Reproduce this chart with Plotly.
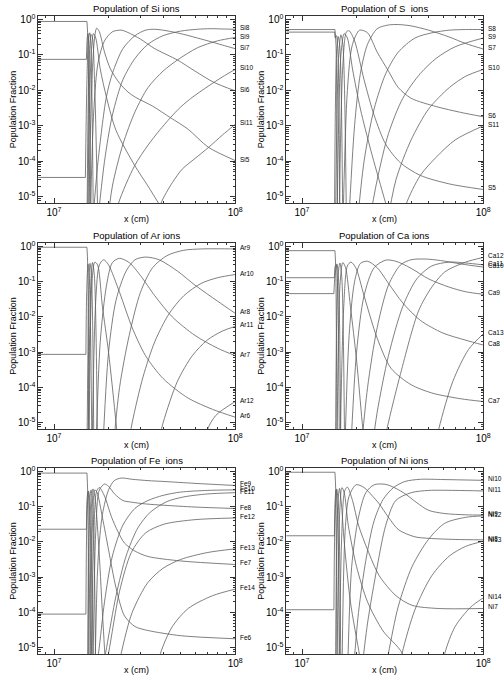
import math
import plotly.graph_objects as go

XU = 1e7  # the x lists below are in units of 1e7 cm

# ---------------- Si ----------------
# curves that start before the shock or die out near it (no label)
SI_EARLY = [
    ([0.5, 1.52, 1.54, 1.565], [0.88, 0.88, 0.25, 1e-6]),
    ([0.5, 1.51, 1.525, 1.54, 1.56, 1.60], [0.075, 0.075, 0.30, 0.40, 0.10, 1e-6]),
    ([0.5, 1.49, 1.52, 1.55, 1.575, 1.60, 1.65], [3.5e-5, 3.5e-5, 0.02, 0.30, 0.42, 0.15, 1e-6]),
    ([1.52, 1.56, 1.60, 1.63, 1.68, 1.75], [1e-6, 0.05, 0.38, 0.30, 0.01, 1e-6]),
    ([1.53, 1.60, 1.65, 1.70, 1.80, 1.95, 2.2, 2.79, 3.3, 3.9],
     [1e-6, 0.08, 0.40, 0.30, 0.04, 6.3e-3, 7.4e-4, 7.6e-5, 2e-5, 5e-6]),
]
SI_IONS = {
    "Si5": ([1.55, 1.62, 1.68, 1.72, 1.78, 1.9, 2.05, 2.3, 2.56, 2.83, 3.5, 4.39, 5.5, 7.1, 10],
            [1e-6, 0.02, 0.35, 0.57, 0.45, 0.12, 0.04, 0.016, 0.009, 6.3e-3, 3.6e-3, 1.7e-3,
             8e-4, 2.5e-4, 1.05e-4]),
    "Si6": ([1.58, 1.66, 1.75, 1.9, 2.1, 2.35, 2.56, 3.0, 3.6, 4.8, 6.0, 7.6, 10],
            [1e-6, 3e-3, 0.06, 0.25, 0.45, 0.5, 0.43, 0.28, 0.15, 0.072, 0.035, 0.017, 0.0097]),
    "Si7": ([1.62, 1.75, 1.94, 2.1, 2.4, 2.8, 3.2, 3.57, 4.2, 5.2, 6.5, 7.26, 8.5, 10],
            [1e-6, 1e-4, 6e-3, 0.03, 0.15, 0.35, 0.5, 0.53, 0.48, 0.38, 0.28, 0.24, 0.19, 0.15]),
    "Si8": ([1.72, 1.9, 2.1, 2.4, 2.8, 3.3, 4.0, 5.0, 6.2, 7.3, 8.5, 10],
            [1e-6, 1e-4, 2e-3, 0.02, 0.08, 0.2, 0.35, 0.47, 0.53, 0.55, 0.54, 0.53]),
    "Si9": ([1.95, 2.1, 2.4, 2.8, 3.3, 4.0, 4.8, 6.2, 8.0, 10],
            [1e-6, 2e-5, 3e-4, 2.5e-3, 0.012, 0.035, 0.072, 0.16, 0.25, 0.31]),
    "Si10": ([2.1, 2.27, 2.79, 3.31, 3.8, 4.39, 5.0, 5.78, 7.08, 8.5, 10],
             [1e-6, 6.6e-6, 7.6e-5, 2.9e-4, 7.2e-4, 1.7e-3, 3.4e-3, 6.3e-3, 0.013, 0.024, 0.039]),
    "Si11": ([3.75, 3.9, 4.5, 5.1, 6.0, 7.12, 8.5, 10],
             [2e-6, 6.6e-6, 2.5e-5, 6e-5, 1.2e-4, 2.45e-4, 5.5e-4, 1.1e-3]),
}

# ---------------- S ----------------
S_EARLY = [
    ([0.5, 1.52, 1.54, 1.57], [0.52, 0.52, 0.2, 1e-6]),
    ([0.5, 1.515, 1.525, 1.55, 1.58, 1.62], [0.44, 0.44, 0.30, 0.35, 0.1, 1e-6]),
    ([1.51, 1.55, 1.585, 1.62, 1.68], [1e-6, 0.1, 0.33, 0.15, 1e-6]),
    ([1.53, 1.59, 1.64, 1.68, 1.76], [1e-6, 0.08, 0.37, 0.2, 1e-6]),
    ([1.56, 1.64, 1.71, 1.78, 1.9, 2.1, 2.4, 2.8, 3.1],
     [1e-6, 0.1, 0.4, 0.3, 0.04, 3e-3, 2e-4, 1.2e-5, 2e-6]),
]
S_IONS = {
    "S5": ([1.6, 1.68, 1.76, 1.82, 1.95, 2.2, 2.5, 2.9, 3.5, 4.5, 6.5, 10],
           [1e-6, 0.05, 0.45, 0.48, 0.25, 0.02, 2e-3, 3e-4, 9e-5, 4e-5, 2.3e-5, 1.6e-5]),
    "S6": ([1.68, 1.78, 1.9, 2.08, 2.3, 2.6, 3.0, 3.4, 4.0, 5.5, 7.5, 10],
           [1e-6, 0.01, 0.2, 0.5, 0.42, 0.12, 0.035, 0.012, 6e-3, 3.5e-3, 2.4e-3, 1.8e-3]),
    "S7": ([1.8, 1.95, 2.1, 2.3, 2.6, 3.0, 3.4, 4.0, 5.0, 6.5, 8.0, 10],
           [1e-6, 1e-3, 0.03, 0.2, 0.55, 0.7, 0.72, 0.66, 0.5, 0.32, 0.21, 0.147]),
    "S8": ([2.0, 2.2, 2.5, 2.9, 3.4, 4.2, 5.2, 6.5, 8.0, 10],
           [1e-6, 1e-4, 3e-3, 0.03, 0.12, 0.3, 0.42, 0.5, 0.52, 0.52]),
    "S9": ([2.3, 2.6, 3.0, 3.6, 4.5, 5.5, 7.0, 10],
           [1e-6, 3e-5, 6e-4, 6e-3, 0.03, 0.08, 0.17, 0.30]),
    "S10": ([2.9, 3.3, 4.0, 5.0, 6.5, 8.0, 10],
            [1e-6, 3e-5, 4e-4, 3e-3, 0.012, 0.025, 0.039]),
    "S11": ([3.5, 3.75, 4.5, 5.5, 7.0, 10],
            [1e-6, 6e-6, 4e-5, 1.3e-4, 4e-4, 1.0e-3]),
}

# ---------------- Ar ----------------
AR_EARLY = [
    ([0.5, 1.52, 1.535, 1.56], [0.95, 0.95, 0.3, 1e-6]),
    ([0.5, 1.50, 1.515, 1.54, 1.57, 1.62], [8.7e-4, 8.7e-4, 0.05, 0.32, 0.1, 1e-6]),
    ([1.52, 1.56, 1.58, 1.61, 1.66], [1e-6, 0.1, 0.33, 0.15, 1e-6]),
    ([1.54, 1.60, 1.63, 1.67, 1.74], [1e-6, 0.12, 0.35, 0.15, 1e-6]),
    ([1.56, 1.62, 1.68, 1.74, 1.85, 2.0, 2.2, 2.3], [1e-6, 0.1, 0.36, 0.3, 0.02, 1e-3, 1e-5, 1e-6]),
]
AR_IONS = {
    "Ar6": ([1.62, 1.70, 1.78, 1.88, 2.0, 2.3, 2.7, 3.2, 4.0, 5.5, 7.5, 10],
            [1e-6, 0.03, 0.3, 0.42, 0.3, 0.05, 5e-3, 8e-4, 1.8e-4, 5e-5, 2.4e-5, 1.44e-5]),
    "Ar7": ([1.7, 1.8, 1.95, 2.1, 2.3, 2.6, 3.0, 3.6, 4.5, 6.0, 8.0, 10],
            [1e-6, 2e-3, 0.08, 0.35, 0.46, 0.35, 0.15, 0.04, 0.01, 3e-3, 1.3e-3, 8e-4]),
    "Ar8": ([1.85, 2.0, 2.2, 2.5, 2.8, 3.2, 3.8, 4.8, 6.0, 8.0, 10],
            [1e-6, 1e-3, 0.03, 0.2, 0.42, 0.5, 0.42, 0.2, 0.08, 0.028, 0.0127]),
    "Ar9": ([2.1, 2.3, 2.6, 3.0, 3.5, 4.2, 5.2, 6.5, 8.0, 10],
            [1e-6, 1e-4, 3e-3, 0.05, 0.25, 0.55, 0.78, 0.85, 0.86, 0.85]),
    "Ar10": ([2.5, 2.7, 3.1, 3.6, 4.3, 5.2, 6.5, 8.0, 10],
             [1e-6, 1e-5, 2e-4, 2e-3, 0.012, 0.04, 0.09, 0.13, 0.16]),
    "Ar11": ([3.6, 4.0, 4.8, 5.8, 7.0, 8.5, 10],
             [1e-6, 1e-5, 1.5e-4, 8e-4, 2.2e-3, 4e-3, 5.4e-3]),
    "Ar12": ([6.7, 7.0, 7.8, 10], [1e-6, 6e-6, 1.6e-5, 4e-5]),
}

# ---------------- Ca ----------------
CA_EARLY = [
    ([0.5, 1.52, 1.535, 1.56], [0.76, 0.76, 0.25, 1e-6]),
    ([0.5, 1.51, 1.525, 1.545, 1.57, 1.61], [0.13, 0.13, 0.28, 0.30, 0.08, 1e-6]),
    ([0.5, 1.50, 1.52, 1.56, 1.59, 1.64], [0.046, 0.046, 0.15, 0.32, 0.12, 1e-6]),
    ([1.53, 1.58, 1.62, 1.66, 1.72], [1e-6, 0.15, 0.34, 0.12, 1e-6]),
    ([1.56, 1.62, 1.68, 1.74, 1.85, 2.0, 2.15, 2.25], [1e-6, 0.08, 0.35, 0.25, 0.02, 6e-4, 1e-5, 1e-6]),
]
CA_IONS = {
    "Ca7": ([1.62, 1.70, 1.78, 1.86, 1.98, 2.2, 2.6, 3.1, 4.0, 5.2, 7.5, 10],
            [1e-6, 0.02, 0.28, 0.36, 0.25, 0.04, 2.5e-3, 3.5e-4, 1.2e-4, 7e-5, 4.8e-5, 4e-5]),
    "Ca8": ([1.72, 1.82, 1.95, 2.1, 2.3, 2.6, 3.0, 3.6, 4.5, 6.0, 8.0, 10],
            [1e-6, 3e-3, 0.1, 0.33, 0.38, 0.25, 0.09, 0.025, 8e-3, 3.5e-3, 2.2e-3, 1.6e-3]),
    "Ca9": ([1.85, 2.0, 2.2, 2.5, 2.9, 3.3, 4.0, 5.0, 6.5, 8.0, 10],
            [1e-6, 1e-3, 0.04, 0.25, 0.41, 0.38, 0.24, 0.12, 0.07, 0.052, 0.044]),
    "Ca10": ([2.1, 2.3, 2.6, 3.0, 3.5, 4.0, 4.8, 5.8, 7.5, 10],
             [1e-6, 1e-4, 5e-3, 0.08, 0.3, 0.42, 0.44, 0.4, 0.32, 0.26]),
    "Ca11": ([2.4, 2.6, 3.0, 3.6, 4.3, 5.2, 6.5, 8.0, 10],
             [1e-6, 2e-5, 8e-4, 0.02, 0.12, 0.28, 0.36, 0.34, 0.30]),
    "Ca12": ([2.75, 2.95, 3.5, 4.4, 5.2, 6.14, 8.0, 10],
             [1e-6, 7e-6, 2.5e-4, 0.015, 0.07, 0.19, 0.36, 0.49]),
    "Ca13": ([5.3, 5.7, 6.8, 8.3, 10], [1e-6, 7e-6, 1.5e-4, 1.2e-3, 3.3e-3]),
}

# ---------------- Fe ----------------
FE_EARLY = [
    ([0.5, 1.52, 1.535, 1.56], [0.9, 0.9, 0.25, 1e-6]),
    ([0.5, 1.51, 1.52, 1.54, 1.57, 1.61], [0.023, 0.023, 0.15, 0.27, 0.05, 1e-6]),
    ([0.5, 1.50, 1.52, 1.55, 1.59, 1.64], [9e-5, 9e-5, 0.05, 0.28, 0.1, 1e-6]),
    ([1.53, 1.57, 1.60, 1.64, 1.70], [1e-6, 0.1, 0.3, 0.1, 1e-6]),
    ([1.55, 1.60, 1.64, 1.68, 1.76, 1.85, 1.95], [1e-6, 0.05, 0.32, 0.2, 0.01, 1e-4, 1e-6]),
]
FE_IONS = {
    "Fe6": ([1.58, 1.63, 1.68, 1.73, 1.85, 2.0, 2.2, 2.45, 2.8, 3.29, 5.0, 10],
            [1e-6, 0.03, 0.3, 0.25, 0.05, 6e-3, 5e-4, 8e-5, 4e-5, 3.1e-5, 2.2e-5, 1.8e-5]),
    "Fe7": ([1.6, 1.66, 1.72, 1.78, 1.9, 2.08, 2.25, 2.45, 2.8, 3.29, 5.0, 10],
            [1e-6, 0.02, 0.28, 0.35, 0.2, 0.05, 0.02, 9.3e-3, 5.5e-3, 3.9e-3, 2.9e-3, 2.3e-3]),
    "Fe8": ([1.64, 1.70, 1.78, 1.9, 2.0, 2.16, 2.4, 2.67, 3.2, 4.05, 6.0, 10],
            [1e-6, 0.02, 0.3, 0.44, 0.38, 0.23, 0.15, 0.135, 0.12, 0.11, 0.098, 0.089]),
    "Fe9": ([1.68, 1.75, 1.85, 2.0, 2.15, 2.35, 2.7, 3.3, 4.05, 6.0, 10],
            [1e-6, 3e-3, 0.06, 0.3, 0.55, 0.65, 0.6, 0.55, 0.52, 0.46, 0.40]),
    "Fe10": ([1.65, 1.76, 1.9, 2.1, 2.4, 2.8, 3.3, 4.0, 5.0, 7.0, 10],
             [1e-6, 7e-6, 2e-4, 4e-3, 0.03, 0.09, 0.15, 0.21, 0.26, 0.29, 0.30]),
    "Fe11": ([1.8, 1.95, 2.2, 2.5, 2.9, 3.4, 4.2, 5.2, 7.0, 10],
             [1e-6, 1e-5, 3e-4, 4e-3, 0.025, 0.07, 0.14, 0.19, 0.23, 0.25]),
    "Fe12": ([1.85, 2.0, 2.3, 2.67, 3.2, 4.05, 6.0, 10],
             [1e-6, 7e-6, 4e-4, 5e-3, 0.018, 0.032, 0.043, 0.048]),
    "Fe13": ([2.2, 2.35, 2.7, 3.29, 4.0, 5.0, 7.0, 10],
             [1e-6, 7e-6, 1e-4, 7e-4, 1.8e-3, 3.2e-3, 5e-3, 6.4e-3]),
    "Fe14": ([3.6, 3.87, 4.5, 5.5, 7.5, 10], [1e-6, 7e-6, 4e-5, 1.3e-4, 3e-4, 4.6e-4]),
}

# ---------------- Ni ----------------
NI_EARLY = [
    ([0.5, 1.52, 1.535, 1.56], [0.95, 0.95, 0.3, 1e-6]),
    ([0.5, 1.51, 1.52, 1.54, 1.57, 1.61], [0.015, 0.015, 0.12, 0.3, 0.06, 1e-6]),
    ([0.5, 1.50, 1.52, 1.555, 1.59, 1.64], [1.2e-4, 1.2e-4, 0.04, 0.32, 0.1, 1e-6]),
    ([1.53, 1.57, 1.61, 1.65, 1.71, 1.85, 2.08, 2.2], [1e-6, 0.08, 0.33, 0.12, 0.01, 2e-4, 6e-6, 1e-6]),
    ([1.56, 1.61, 1.66, 1.71, 1.8, 2.0, 2.3, 2.8, 3.57, 3.8],
     [1e-6, 0.05, 0.35, 0.25, 0.03, 2e-3, 2e-4, 3e-5, 7e-6, 1e-6]),
]
NI_IONS = {
    "Ni7": ([1.60, 1.66, 1.72, 1.78, 1.9, 2.05, 2.3, 2.67, 3.3, 4.05, 5.65, 10],
            [1e-6, 0.02, 0.28, 0.36, 0.15, 0.03, 6e-3, 1.1e-3, 3e-4, 1.6e-4, 1.3e-4, 1.3e-4]),
    "Ni8": ([1.66, 1.73, 1.82, 1.99, 2.2, 2.45, 2.67, 3.0, 3.42, 4.2, 5.0, 7.0, 10],
            [1e-6, 0.02, 0.2, 0.42, 0.35, 0.2, 0.12, 0.05, 0.022, 0.014, 0.0127, 0.0118, 0.0115]),
    "Ni9": ([1.78, 1.88, 2.05, 2.25, 2.5, 2.9, 3.3, 3.72, 4.3, 5.0, 6.14, 8.0, 10],
            [1e-6, 2e-3, 0.05, 0.25, 0.42, 0.43, 0.33, 0.23, 0.13, 0.079, 0.064, 0.059, 0.058]),
    "Ni10": ([1.9, 2.05, 2.25, 2.5, 2.8, 3.2, 3.7, 4.5, 6.0, 10],
             [1e-6, 1e-4, 3e-3, 0.04, 0.16, 0.35, 0.52, 0.6, 0.59, 0.56]),
    "Ni11": ([2.1, 2.3, 2.6, 2.9, 3.29, 4.0, 5.0, 7.0, 10],
             [1e-6, 5e-5, 2e-3, 0.03, 0.15, 0.25, 0.29, 0.29, 0.28]),
    "Ni12": ([2.8, 3.0, 3.4, 4.05, 5.0, 6.14, 8.0, 10],
             [1e-6, 7e-6, 1.5e-4, 2e-3, 0.012, 0.034, 0.05, 0.055]),
    "Ni13": ([3.35, 3.57, 4.2, 5.2, 6.5, 8.0, 10],
             [1e-6, 7e-6, 1.2e-4, 1.1e-3, 4e-3, 7.5e-3, 0.0105]),
    "Ni14": ([5.8, 6.14, 7.0, 8.5, 10], [1e-6, 7e-6, 4e-5, 1.4e-4, 2.6e-4]),
}

PANELS = [
    ("Population of Si ions", SI_EARLY, SI_IONS),
    ("Population of S\u00a0 ions", S_EARLY, S_IONS),
    ("Population of Ar ions", AR_EARLY, AR_IONS),
    ("Population of Ca ions", CA_EARLY, CA_IONS),
    ("Population of Fe\u00a0 ions", FE_EARLY, FE_IONS),
    ("Population of Ni ions", NI_EARLY, NI_IONS),
]

W, H = 504, 680
COLS = [(39, 239), (291, 491)]
ROWS = [(13, 201), (241, 428), (467, 654)]
FONT = "Liberation Sans, Arial, sans-serif"
LINE = dict(color="#606060", width=0.8)
AXC = "#333333"

YMINOR = [k * 10.0 ** n for n in range(-6, 1) for k in range(2, 10)]
XMINOR = [k * 10.0 ** n for n in (6, 7) for k in range(2, 10)]


def add_curve(fig, xs, ys, xa, ya):
    xs = [v * XU for v in xs]
    if xs[0] < 1e7:  # flat level ahead of the shock
        fig.add_trace(go.Scatter(x=xs[:2], y=ys[:2], mode="lines", line=LINE,
                                 xaxis=xa, yaxis=ya, hoverinfo="skip"))
        xs, ys = xs[1:], ys[1:]
    fig.add_trace(go.Scatter(x=xs, y=ys, mode="lines",
                             line=dict(LINE, shape="spline", smoothing=0.8),
                             xaxis=xa, yaxis=ya, hoverinfo="skip"))


fig = go.Figure()
annotations = []
axes = {}

for i, (title, early, ions) in enumerate(PANELS):
    c0, c1 = COLS[i % 2]
    r0, r1 = ROWS[i // 2]
    n = "" if i == 0 else str(i + 1)
    xa, ya = "x" + n, "y" + n

    for xs, ys in early:
        add_curve(fig, xs, ys, xa, ya)
    for name, (xs, ys) in ions.items():
        add_curve(fig, xs, ys, xa, ya)
        if xs[-1] >= 10:
            annotations.append(dict(xref=xa, yref=ya, x=8, y=math.log10(ys[-1]),
                                    text=name, showarrow=False, xanchor="left",
                                    yanchor="middle", xshift=3, yshift=1.5,
                                    font=dict(family=FONT, size=6.5, color="black")))

    common = dict(type="log", showgrid=False, zeroline=False, showline=True,
                  linecolor=AXC, linewidth=1, mirror="ticks", ticks="inside",
                  ticklen=5, tickwidth=1, tickcolor=AXC, tickmode="array",
                  tickfont=dict(family=FONT, size=10, color="black"))
    axes["xaxis" + n] = dict(common, domain=[c0 / W, c1 / W], anchor=ya,
                             range=[math.log10(8.2e6), 8.0],
                             tickvals=[1e7, 1e8],
                             ticktext=["10<sup>7</sup>", "10<sup>8</sup>"],
                             minor=dict(ticks="inside", ticklen=2.5, tickwidth=1,
                                        tickcolor=AXC, tickmode="array",
                                        tickvals=XMINOR, showgrid=False))
    axes["yaxis" + n] = dict(common, domain=[1 - r1 / H, 1 - r0 / H], anchor=xa,
                             range=[-5.18, 0.1],
                             tickvals=[10.0 ** k for k in range(-5, 1)],
                             ticktext=["10<sup>%d</sup>" % k for k in range(-5, 1)],
                             minor=dict(ticks="inside", ticklen=2.5, tickwidth=1,
                                        tickcolor=AXC, tickmode="array",
                                        tickvals=YMINOR, showgrid=False))

    annotations.append(dict(xref="paper", yref="paper", x=(c0 + c1) / 2 / W,
                            y=1 - (r0 - 7) / H, text=title, showarrow=False,
                            xanchor="center", yanchor="middle",
                            font=dict(family=FONT, size=9.5, color="black")))
    annotations.append(dict(xref="paper", yref="paper", x=(c0 + c1) / 2 / W,
                            y=1 - (r1 + 16) / H, text="x (cm)", showarrow=False,
                            xanchor="center", yanchor="middle",
                            font=dict(family=FONT, size=9, color="black")))
    annotations.append(dict(xref="paper", yref="paper", x=(c0 - 26) / W,
                            y=1 - (r0 + r1) / 2 / H, text="Population Fraction",
                            textangle=-90, showarrow=False, xanchor="center",
                            yanchor="middle",
                            font=dict(family=FONT, size=9, color="black")))

fig.update_layout(width=W, height=H, margin=dict(l=0, r=0, t=0, b=0),
                  paper_bgcolor="white", plot_bgcolor="white", showlegend=False,
                  annotations=annotations, **axes)

# drop the page's default body margin and scrollbars so the figure sits at 0,0
PAGE_JS = ("document.documentElement.style.overflow='hidden';"
           "document.body.style.margin='0px';"
           "document.body.style.overflow='hidden';")
fig.write_html("out.html", config={"displayModeBar": False}, post_script=PAGE_JS)
